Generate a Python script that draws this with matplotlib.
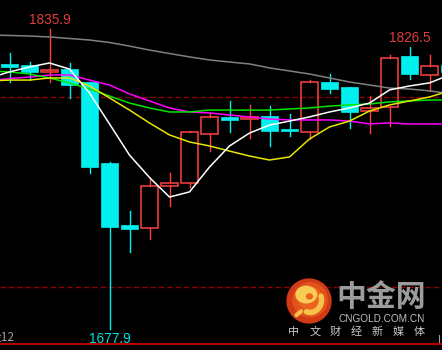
import matplotlib
matplotlib.use("Agg")
import matplotlib.pyplot as plt
from matplotlib.patches import Rectangle, Circle, Ellipse
import numpy as np

# candle data (gold)
opens = [1816.9, 1816.9, 1813.3, 1814.8, 1808.0, 1765.3, 1732.7, 1731.1, 1753.2, 1754.8,
         1780.6, 1789.6, 1788.5, 1790.1, 1783.2, 1781.7, 1808.0, 1805.4, 1792.7, 1794.8,
         1821.7, 1811.7, 1816.9]
highs = [1823.3, 1818.5, 1835.9, 1818.0, 1808.0, 1765.9, 1740.0, 1757.4, 1760.1, 1782.2,
         1791.7, 1798.0, 1795.9, 1795.3, 1791.1, 1809.0, 1812.2, 1805.4, 1800.6, 1822.2,
         1826.5, 1822.2, 1818.0]
lows = [1808.0, 1809.0, 1808.0, 1799.6, 1760.1, 1677.9, 1718.5, 1725.3, 1742.7, 1752.7,
        1771.6, 1781.7, 1778.5, 1774.3, 1779.5, 1777.9, 1802.2, 1783.8, 1781.1, 1784.8,
        1809.6, 1803.3, 1810.0]
closes = [1816.1, 1813.3, 1814.3, 1806.4, 1763.2, 1731.6, 1730.6, 1753.2, 1754.8, 1781.7,
          1789.6, 1788.0, 1789.6, 1782.2, 1782.2, 1808.0, 1804.3, 1792.2, 1794.3, 1820.6,
          1812.2, 1816.4, 1813.3]

# moving averages, starting one bar before the first candle
ma_x = list(range(-1, 23))
ma_white = [1810.1, 1813.3, 1815.9, 1818.0, 1814.8, 1802.2, 1785.9, 1769.5, 1757.7, 1747.4,
            1750.1, 1763.2, 1774.3, 1781.1, 1785.3, 1787.4, 1789.6, 1792.2, 1794.3, 1796.9,
            1803.8, 1805.9, 1807.5, 1811.7]
ma_yellow = [1808.5, 1809.0, 1809.0, 1810.1, 1810.1, 1805.9, 1799.6, 1793.2, 1786.4, 1780.1,
             1776.4, 1774.3, 1771.6, 1769.0, 1766.9, 1768.5, 1778.0, 1784.3, 1787.4, 1792.7,
             1795.9, 1798.0, 1800.1, 1803.3]
ma_green = [1813.8, 1813.3, 1812.2, 1810.1, 1807.5, 1804.3, 1800.6, 1796.9, 1794.3, 1792.2,
            1792.2, 1793.2, 1793.2, 1793.2, 1793.2, 1793.8, 1794.3, 1795.3, 1795.9, 1796.4,
            1797.5, 1798.0, 1798.5, 1798.5]
ma_magenta = [1808.5, 1809.8, 1810.6, 1811.7, 1811.7, 1809.0, 1806.4, 1801.7, 1798.0, 1794.3,
              1792.2, 1791.7, 1790.6, 1789.6, 1788.5, 1788.0, 1788.0, 1788.0, 1787.4, 1785.9,
              1786.4, 1785.9, 1785.9, 1785.9]
ma_gray = [1832.7, 1832.5, 1832.2, 1831.7, 1830.9, 1830.1, 1828.8, 1826.9, 1824.8, 1823.0,
           1821.2, 1819.6, 1818.5, 1817.5, 1815.4, 1813.8, 1812.2, 1810.1, 1808.0, 1806.4,
           1804.8, 1804.3, 1803.3, 1801.9]

levels = [1800, 1700]
high_marks = [2, 20]
low_marks = [5]

W, H = 442, 350
fig = plt.figure(figsize=(W / 100, H / 100), dpi=100, facecolor="black")
ax = fig.add_axes([0, 0, 1, 1])
ax.set_facecolor("black")
ax.set_xlim(-0.475, 21.625)
ax.set_ylim(1666.84, 1851.17)
ax.axis("off")

red = "#ff4040"
cyan = "#00f0f0"

for lv in levels:
    ax.axhline(lv, color="#8c0000", lw=1.0, ls=(0, (4, 2)), zorder=0)

bw = 0.82
for i in range(len(opens)):
    o, h, l, c = opens[i], highs[i], lows[i], closes[i]
    top, bot = max(o, c), min(o, c)
    if c > o:
        ax.plot([i, i], [top, h], color=red, lw=1.0, zorder=2)
        ax.plot([i, i], [l, bot], color=red, lw=1.0, zorder=2)
        ax.add_patch(Rectangle((i - bw / 2, bot), bw, top - bot, fill=False,
                               edgecolor=red, lw=1.1, zorder=2))
    else:
        ax.plot([i, i], [l, h], color=cyan, lw=1.0, zorder=2)
        ax.add_patch(Rectangle((i - bw / 2, bot), bw, max(top - bot, 1.2),
                               facecolor=cyan, edgecolor=cyan, lw=0.5, zorder=2))

ax.plot(ma_x, ma_gray, color="#808080", lw=1.1, zorder=3)
ax.plot(ma_x, ma_magenta, color="#ff00ff", lw=1.1, zorder=3)
ax.plot(ma_x, ma_green, color="#00e600", lw=1.1, zorder=3)
ax.plot(ma_x, ma_yellow, color="#e6e600", lw=1.1, zorder=3)
ax.plot(ma_x, ma_white, color="#ffffff", lw=1.1, zorder=4)

num_font = ["Liberation Sans Narrow", "Liberation Sans"]
for i in high_marks:
    ax.annotate(f"{highs[i]:.1f}", (i, highs[i]), xytext=(0, 1.5), textcoords="offset points",
                ha="center", va="bottom", color="#e03c3c", fontsize=9.8, family=num_font)
for i in low_marks:
    ax.annotate(f"{lows[i]:.1f}", (i, lows[i]), xytext=(0, -2), textcoords="offset points",
                ha="center", va="top", color="#00e0e0", fontsize=9.8, family=num_font)


def px(x, y):
    return x / W, 1 - y / H


# bottom border and tags
fig.add_artist(plt.Line2D([0, 1], [1 - 343.5 / H] * 2, color="#c80000", lw=1.3))
fig.add_artist(plt.Line2D([439 / W] * 2, [1 - 335 / H, 1 - 342 / H], color="#a0a0a0", lw=0.8))
fig.text(*px(15, 338), "金12", ha="right", va="center", color="#a0a0a0", fontsize=8.5,
         family=["Noto Sans CJK SC", "DejaVu Sans"])

# logo
lax = fig.add_axes([(309 - 24) / W, 1 - (301 + 24) / H, 48 / W, 48 / H])
lax.set_xlim(-1.05, 1.05)
lax.set_ylim(-1.05, 1.05)
lax.set_aspect("equal")
lax.axis("off")
lax.add_patch(Circle((0, 0), 0.96, color="#d23a16"))
lax.add_patch(Circle((0.05, 0.05), 0.75, color="#e2521c"))
lax.add_patch(Circle((0.05, 0.1), 0.5, color="#ea6420"))
t = np.linspace(0.0, 2.2, 50)
lax.plot(0.05 + 0.5 * np.cos(-t + 0.3), 0.05 + 0.55 * np.sin(-t + 0.3), color="#f7c24a",
         lw=4.0, solid_capstyle="round")
lax.plot([-0.35, -0.55], [-0.45, -0.62], color="#f7c24a", lw=3.0, solid_capstyle="round")
lax.add_patch(Ellipse((-0.12, 0.28), 0.9, 0.72, color="#f9cc55"))
lax.add_patch(Ellipse((0.02, 0.2), 0.26, 0.22, color="#e8681f"))

fig.text(*px(381, 297), "中金网", ha="center", va="center", color="#9c9c9c", fontsize=21.5,
         fontweight="bold", family=["Noto Sans CJK SC", "DejaVu Sans"])
fig.text(*px(381.5, 318.5), "CNGOLD.COM.CN", ha="center", va="center", color="#c0c0c0",
         fontsize=7.2, family=["Liberation Sans", "DejaVu Sans"])
for k, ch in enumerate("中文财经新媒体"):
    fig.text(*px(294 + k * 20.8, 332), ch, ha="center", va="center", color="#c8c8c8",
             fontsize=8, family=["Noto Sans CJK SC", "DejaVu Sans"])

fig.savefig("out.png", dpi=100, facecolor="black")
